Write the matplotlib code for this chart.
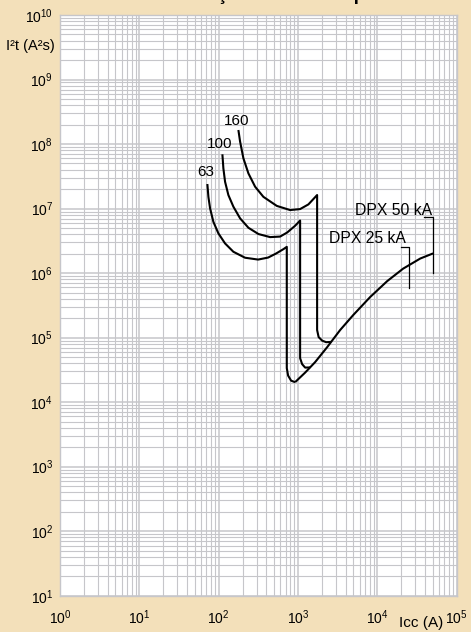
import numpy as np
import matplotlib
matplotlib.use("Agg")
import matplotlib.pyplot as plt
from matplotlib.ticker import FixedLocator, NullFormatter

plt.rcParams['font.family'] = ['Liberation Sans', 'DejaVu Sans']
plt.rcParams['mathtext.fontset'] = 'custom'
plt.rcParams['mathtext.rm'] = 'Liberation Sans'

# curve 63 A (Icc in A, I2t in A2s)
icc_63 = [72.0, 74.2, 77.9, 85.7, 99.1, 120.4, 153.2, 215, 314, 420, 529, 655, 722,
          722, 750, 819, 919]
i2t_63 = [2.4e7, 1.52e7, 1.01e7, 6.24e6, 4.13e6, 2.88e6, 2.14e6, 1.73e6, 1.62e6, 1.74e6,
          2.01e6, 2.35e6, 2.55e6,
          3.37e4, 2.58e4, 2.15e4, 2.04e4]

# curve 100 A
icc_100 = [111.4, 114.6, 120.4, 132.5, 153.2, 186.2, 237, 317, 445, 595, 729, 919, 1063,
           1063, 1127, 1230, 1422]
i2t_100 = [6.93e7, 4.2e7, 2.6e7, 1.62e7, 1.07e7, 7.05e6, 5.04e6, 4.03e6, 3.61e6, 3.68e6,
           4.25e6, 5.41e6, 6.52e6,
           4.8e4, 3.88e4, 3.43e4, 3.45e4]

# curve 160 A
icc_160 = [177.2, 186.2, 205, 237, 288, 366, 540, 795, 1063, 1352, 1741,
           1741, 1819, 2014, 2261, 2614]
i2t_160 = [1.65e8, 1.09e8, 6.0e7, 3.51e7, 2.18e7, 1.52e7, 1.1e7, 9.48e6, 9.82e6, 1.16e7, 1.62e7,
           1.31e5, 1.02e5, 8.98e4, 8.5e4, 8.57e4]

# common limiting curve
icc_lim = [919, 1230, 1643, 2328, 3395, 4954, 8110, 13300, 21100, 34700, 50500]
i2t_lim = [2.04e4, 2.87e4, 4.17e4, 7.1e4, 1.31e5, 2.23e5, 4.25e5, 7.5e5, 1.17e6, 1.68e6, 2.02e6]

# DPX breaking capacity brackets
brk_25_x = [19950, 24700, 24700]
brk_25_y = [2.56e6, 2.56e6, 5.8e5]
brk_50_x = [38900, 50900, 50900]
brk_50_y = [7.4e6, 7.4e6, 9.9e5]

curve_names = ["63", "100", "160"]
name_x = [69.4, 103, 169]
name_y = [3.68e7, 1.0e8, 2.28e8]

x_decades = [0, 1, 2, 3, 4, 5]
y_decades = [1, 2, 3, 4, 5, 6, 7, 8, 9, 10]

bg = '#F3E0BA'
gridc = '#C6C6CA'

fig = plt.figure(figsize=(4.71, 6.32), dpi=100, facecolor=bg)
ax = fig.add_axes([0.1274, 0.0574, 0.8422, 0.9189])
ax.set_facecolor('white')
ax.set_xscale('log')
ax.set_yscale('log')
ax.set_xlim(1, 1e5)
ax.set_ylim(10, 1e10)

# decade lines and 2..9 sub lines, only inside the plot
xmaj = [10.0 ** d for d in x_decades]
ymaj = [10.0 ** d for d in y_decades]
xmin = [m * 10.0 ** d for d in x_decades[:-1] for m in range(2, 10)]
ymin = [m * 10.0 ** d for d in y_decades[:-1] for m in range(2, 10)]
ax.xaxis.set_major_locator(FixedLocator(xmaj))
ax.yaxis.set_major_locator(FixedLocator(ymaj))
ax.xaxis.set_minor_locator(FixedLocator(xmin))
ax.yaxis.set_minor_locator(FixedLocator(ymin))
ax.set_xticklabels([r'$\mathdefault{10^{%d}}$' % d for d in x_decades])
ax.set_yticklabels([r'$\mathdefault{10^{%d}}$' % d for d in y_decades])
ax.xaxis.set_minor_formatter(NullFormatter())
ax.yaxis.set_minor_formatter(NullFormatter())

ax.grid(which='major', color=gridc, lw=1.1)
ax.grid(which='minor', color=gridc, lw=0.8)
ax.set_axisbelow(True)
for s in ax.spines.values():
    s.set_color(gridc)
    s.set_linewidth(1.0)

ax.tick_params(which='both', length=0)
ax.tick_params(axis='x', labelsize=10, pad=9)
ax.tick_params(axis='y', labelsize=10, pad=5)

lw = 1.5
for xs, ys in [(icc_63, i2t_63), (icc_100, i2t_100), (icc_160, i2t_160), (icc_lim, i2t_lim)]:
    ax.plot(xs, ys, color='black', lw=lw, solid_joinstyle='round', solid_capstyle='butt')

ax.plot(brk_25_x, brk_25_y, color='black', lw=0.9)
ax.plot(brk_50_x, brk_50_y, color='black', lw=0.9)

for n, x, y in zip(curve_names, name_x, name_y):
    ax.text(x, y, n, fontsize=11, ha='center', va='center')

ax.text(49000, 8.07e6, "DPX 50 kA", fontsize=11.3, ha='right', va='baseline')
ax.text(22900, 2.95e6, "DPX 25 kA", fontsize=11.3, ha='right', va='baseline')

fig.text(6 / 471, 1 - 46 / 632, "I²t (A²s)", fontsize=10.5, ha='left', va='center')
fig.text(421 / 471, 1 - 623 / 632, "Icc (A)", fontsize=11, ha='center', va='center')

# title, mostly outside the visible area
fig.text(162 / 471, 1.0, "Limitação de I²t dos aparelhos DPX", fontsize=13.5,
         fontweight='bold', ha='left', va='baseline')

plt.savefig('out.png', dpi=100, facecolor=bg)
